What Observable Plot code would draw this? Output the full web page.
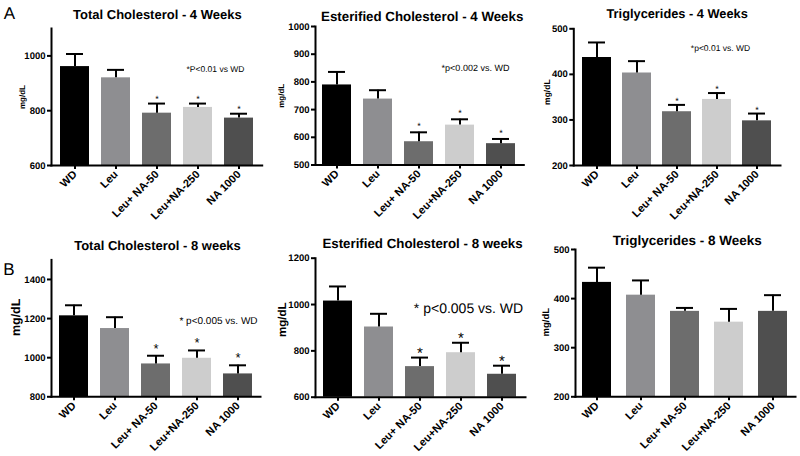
<!DOCTYPE html>
<html><head><meta charset="utf-8">
<script src="https://cdn.jsdelivr.net/npm/d3@7"></script>
<script src="https://cdn.jsdelivr.net/npm/@observablehq/plot@0.6"></script>
<style>
body{margin:0;background:#fff;}
#chart{position:relative;width:800px;height:456px;background:#fff;overflow:hidden;}
#chart svg text{text-rendering:geometricPrecision;}
</style></head><body><div id="chart"></div>
<script>
// ---- data ----
const groups = ["WD", "Leu", "Leu+ NA-50", "Leu+NA-250", "NA 1000"];
const groupColors = ["#000000", "#8e8e91", "#6d6d6d", "#cdcdcd", "#4f4f4f"];

const tc4Mean = [961, 920, 791, 812, 773];
const tc4Sem  = [46, 29, 35, 14, 16];
const ec4Mean = [789, 738, 584, 644, 577];
const ec4Sem  = [47, 32, 34, 21, 17];
const tg4Mean = [437, 403, 318, 345, 298];
const tg4Sem  = [33, 26, 15, 14, 16];
const tc8Mean = [1214, 1149, 968, 997, 917];
const tc8Sem  = [54, 58, 42, 40, 44];
const ec8Mean = [1015, 903, 732, 792, 699];
const ec8Sem  = [63, 57, 39, 43, 37];
const tg8Mean = [433, 407, 374, 352, 374];
const tg8Sem  = [30, 30, 7, 27, 33];

const sigFlags = [false, false, true, true, true];
const noSig = [false, false, false, false, false];

const titles = [
  "Total Cholesterol - 4 Weeks", "Esterified Cholesterol - 4 Weeks", "Triglycerides - 4 Weeks",
  "Total Cholesterol - 8 weeks", "Esterified Cholesterol - 8 weeks", "Triglycerides - 8 Weeks"
];
const notes = ["*P<0.01 vs WD", "*p<0.002 vs. WD", "*p<0.01 vs. WD", "* p<0.005 vs. WD", "* p<0.005 vs. WD", null];
const yDomains = [[600, 1100], [500, 1000], [200, 500], [800, 1500], [600, 1200], [200, 500]];
const yTicks = [[600, 800, 1000], [500, 600, 700, 800, 900, 1000], [200, 300, 400, 500],
                [800, 1000, 1200, 1400], [600, 800, 1000, 1200], [200, 300, 400, 500]];
const yLabel = "mg/dL";
const letters = ["A", null, null, "B", null, null];

// ---- layout / style per panel ----
const layout = [
  {left: 0,   top: 0,   width: 265, height: 228, ml: 51, mr: 3.3, mt: 28,   mb: 63,
   pi: 0.285, po: 0.19, tSize: 13,   tDx: 0.5, tDy: -14,  lSize: 8, lDx: -29.5, lDy: 0,
   nSize: 8.5, nDx: -46.7, nDy: 41, sSize: 9, sDy: -2, letDx: -42, letDy: -15},
  {left: 265, top: 0,   width: 265, height: 228, ml: 50, mr: 6.7, mt: 26,   mb: 63.5,
   pi: 0.285, po: 0.15, tSize: 13.3, tDx: 2.5, tDy: -10,  lSize: 8, lDx: -34, lDy: 0,
   nSize: 9, nDx: -48.3, nDy: 42, sSize: 9, sDy: -3},
  {left: 530, top: 0,   width: 270, height: 228, ml: 43.3, mr: 20, mt: 28.3, mb: 63,
   pi: 0.28, po: 0.17, tSize: 12.8, tDx: 0, tDy: -15.3, lSize: 8.5, lDx: -26.6, lDy: -5,
   nSize: 8.5, nDx: -60, nDy: 19.7, sSize: 9, sDy: -1},
  {left: 0,   top: 228, width: 265, height: 228, ml: 51, mr: 5,   mt: 31.4, mb: 59.7,
   pi: 0.285, po: 0.18, tSize: 13,  tDx: 1.5, tDy: -14.4, lSize: 12.5, lDx: -36, lDy: -11,
   nSize: 10, nDx: -42, nDy: 60.6, sSize: 13, sDy: -3, letDx: -42.5, letDy: 9.3},
  {left: 265, top: 228, width: 265, height: 228, ml: 50, mr: 5,   mt: 29.7, mb: 59.3,
   pi: 0.29, po: 0.15, tSize: 13.3, tDx: 2, tDy: -14.7, lSize: 11.5, lDx: -33.3, lDy: -8,
   nSize: 14, nDx: -57, nDy: 50.3, sSize: 15, sDy: 0},
  {left: 530, top: 228, width: 270, height: 228, ml: 45, mr: 5,   mt: 21,   mb: 59.7,
   pi: 0.335, po: 0.15, tSize: 13.5, tDx: 1.7, tDy: -9,  lSize: 9.5, lDx: -30, lDy: -1,
   nSize: 10, nDx: 0, nDy: 0, sSize: 9, sDy: 0}
];

const means = [tc4Mean, ec4Mean, tg4Mean, tc8Mean, ec8Mean, tg8Mean];
const sems = [tc4Sem, ec4Sem, tg4Sem, tc8Sem, ec8Sem, tg8Sem];
const sigs = [sigFlags, sigFlags, sigFlags, sigFlags, sigFlags, noSig];

const FONT = '"Liberation Sans", Arial, Helvetica, sans-serif';
const chart = document.getElementById("chart");

layout.forEach((L, i) => {
  const rows = groups.map((g, j) => ({group: g, mean: means[i][j], upper: means[i][j] + sems[i][j], sig: sigs[i][j]}));
  const ymin = yDomains[i][0];
  const marks = [
    Plot.barY(rows, {x: "group", y1: ymin, y2: "mean", fill: "group"}),
    Plot.ruleX(rows, {x: "group", y1: "mean", y2: "upper", stroke: "black", strokeWidth: 2}),
    Plot.tickY(rows, {x: "group", y: "upper", stroke: "black", strokeWidth: 2, insetLeft: 6, insetRight: 6}),
    Plot.text(rows.filter(d => d.sig), {x: "group", y: "upper", text: () => "*", lineAnchor: "bottom",
      dy: L.sDy, fontSize: L.sSize, fill: "black"}),
    Plot.axisY({ticks: yTicks[i], tickFormat: d3.format("d"), tickSize: 4, tickPadding: 2, strokeWidth: 2,
      fontSize: 9.5, fontWeight: "bold", label: null}),
    Plot.axisX({tickSize: 4, tickPadding: 3, tickRotate: -45, strokeWidth: 2, fontSize: 11,
      fontWeight: "bold", label: null}),
    Plot.frame({anchor: "left", strokeWidth: 2, stroke: "black"}),
    Plot.frame({anchor: "bottom", strokeWidth: 2, stroke: "black"}),
    Plot.text([titles[i]], {frameAnchor: "top", dx: L.tDx, dy: L.tDy, lineAnchor: "middle",
      fontSize: L.tSize, fontWeight: "bold", fill: "black"}),
    Plot.text([yLabel], {frameAnchor: "left", rotate: -90, dx: L.lDx, dy: L.lDy, lineAnchor: "middle",
      textAnchor: "middle", fontSize: L.lSize, fontWeight: "bold", fill: "black"})
  ];
  if (notes[i]) {
    marks.push(Plot.text([notes[i]], {frameAnchor: "top-right", dx: L.nDx, dy: L.nDy, textAnchor: "middle",
      lineAnchor: "middle", fontSize: L.nSize, fill: "black"}));
  }
  if (letters[i]) {
    marks.push(Plot.text([letters[i]], {frameAnchor: "top-left", dx: L.letDx, dy: L.letDy, textAnchor: "middle",
      lineAnchor: "middle", fontSize: 17, fill: "black"}));
  }
  const svg = Plot.plot({
    width: L.width, height: L.height,
    marginLeft: L.ml, marginRight: L.mr, marginTop: L.mt, marginBottom: L.mb,
    x: {domain: groups, paddingInner: L.pi, paddingOuter: L.po},
    y: {domain: yDomains[i]},
    color: {domain: groups, range: groupColors},
    style: {fontFamily: FONT, background: "white", color: "black", overflow: "visible"},
    marks
  });
  svg.style.position = "absolute";
  svg.style.left = L.left + "px";
  svg.style.top = L.top + "px";
  svg.style.maxWidth = "none";
  chart.appendChild(svg);
});
</script>
</body></html>
